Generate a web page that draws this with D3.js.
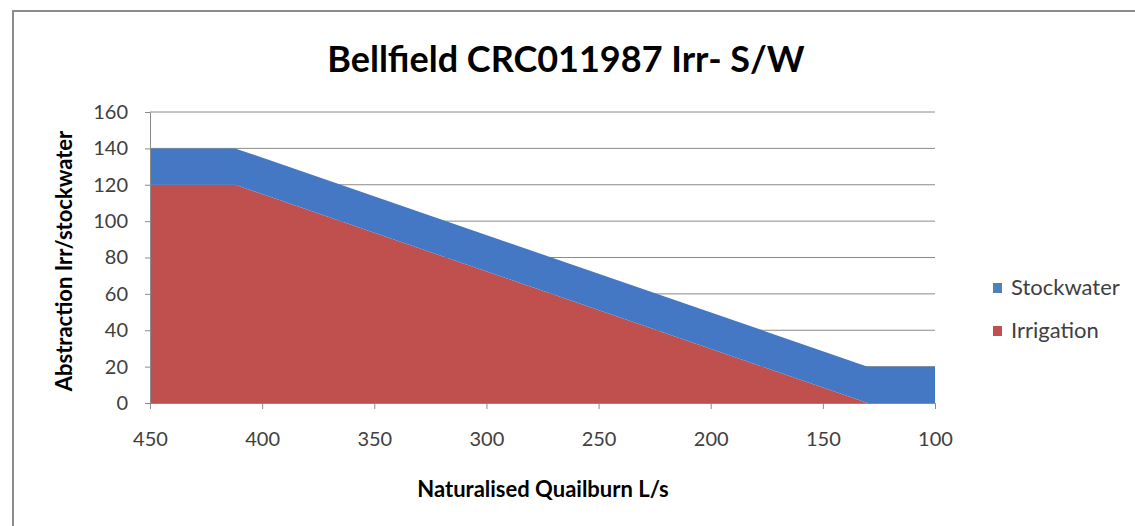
<!DOCTYPE html>
<html>
<head>
<meta charset="utf-8">
<script src="https://cdn.jsdelivr.net/npm/d3@7"></script>
<style>
  body { margin: 0; background: #fff; }
  text { font-family: Lato, "Open Sans", sans-serif; }
</style>
</head>
<body>
<svg id="chart" width="1135" height="526"></svg>
<script>
// data
var flows = [450, 412, 130, 100];
var irrigation = [120, 120, 0, 0];
var stockwater = [20, 20, 20, 20];
var seriesNames = ["Stockwater", "Irrigation"];
var seriesColours = {Stockwater: "#4478c4", Irrigation: "#c0504d"};
var legendColours = {Stockwater: "#4f81bd", Irrigation: "#c0504d"};
var xTicks = [450, 400, 350, 300, 250, 200, 150, 100];
var yTicks = [0, 20, 40, 60, 80, 100, 120, 140, 160];

var plot = {left: 150, right: 935, top: 112, bottom: 403};

var svg = d3.select("#chart");

// frame of the chart object (only top and left edge visible)
svg.append("path")
   .attr("d", "M13,526 L13,11 L1135,11")
   .attr("fill", "none")
   .attr("stroke", "#8c8c8c")
   .attr("stroke-width", 2);

var x = d3.scaleLinear().domain([450, 100]).range([plot.left, plot.right]);
var y = d3.scaleLinear().domain([0, 160]).range([plot.bottom, plot.top]);

var rows = flows.map(function(f, i) {
    return {flow: f, Irrigation: irrigation[i], Stockwater: stockwater[i]};
});

var stack = d3.stack().keys(["Irrigation", "Stockwater"]);
var layers = stack(rows);

// gridlines
svg.append("g")
   .selectAll("line")
   .data(yTicks.filter(function(d) { return d > 0; }))
   .enter()
   .append("line")
   .attr("x1", plot.left)
   .attr("x2", plot.right)
   .attr("y1", function(d) { return y(d); })
   .attr("y2", function(d) { return y(d); })
   .attr("stroke", "#8a8a8a")
   .attr("stroke-width", 1);

var area = d3.area()
    .x(function(d) { return x(d.data.flow); })
    .y0(function(d) { return y(d[0]); })
    .y1(function(d) { return y(d[1]); });

svg.append("g")
   .selectAll("path")
   .data(layers)
   .enter()
   .append("path")
   .attr("d", area)
   .attr("fill", function(d) { return seriesColours[d.key]; });

// axes
var xAxis = d3.axisBottom(x).tickValues(xTicks).tickSize(6).tickSizeOuter(0).tickPadding(23);
var yAxis = d3.axisLeft(y).tickValues(yTicks).tickSize(5).tickSizeOuter(0).tickPadding(17);

var gx = svg.append("g")
   .attr("transform", "translate(0," + plot.bottom + ")")
   .call(xAxis);
var gy = svg.append("g")
   .attr("transform", "translate(" + plot.left + ",0)")
   .call(yAxis);

[gx, gy].forEach(function(g) {
    g.selectAll("path, line").attr("stroke", "#8a8a8a");
    g.selectAll("text")
     .attr("fill", "#404040")
     .style("font-size", "20px");
});

// titles
svg.append("text")
   .attr("x", 566)
   .attr("y", 72)
   .attr("text-anchor", "middle")
   .style("font-size", "36px")
   .style("font-weight", "bold")
   .attr("fill", "#000")
   .text("Bellfield CRC011987 Irr- S/W");

svg.append("text")
   .attr("x", 543)
   .attr("y", 497)
   .attr("text-anchor", "middle")
   .style("font-size", "22px")
   .style("font-weight", "bold")
   .attr("fill", "#000")
   .text("Naturalised Quailburn L/s");

svg.append("text")
   .attr("transform", "translate(72,261) rotate(-90)")
   .attr("text-anchor", "middle")
   .style("font-size", "22px")
   .style("font-weight", "bold")
   .attr("fill", "#000")
   .text("Abstraction Irr/stockwater");

// legend
var legend = svg.append("g")
   .selectAll("g")
   .data(seriesNames)
   .enter()
   .append("g")
   .attr("transform", function(d, i) { return "translate(993," + (288 + i * 43) + ")"; });

legend.append("rect")
   .attr("x", 0)
   .attr("y", -5)
   .attr("width", 9)
   .attr("height", 10)
   .attr("fill", function(d) { return legendColours[d]; });

legend.append("text")
   .attr("x", 18)
   .attr("y", 7)
   .style("font-size", "22px")
   .attr("fill", "#404040")
   .text(function(d) { return d; });
</script>
</body>
</html>
